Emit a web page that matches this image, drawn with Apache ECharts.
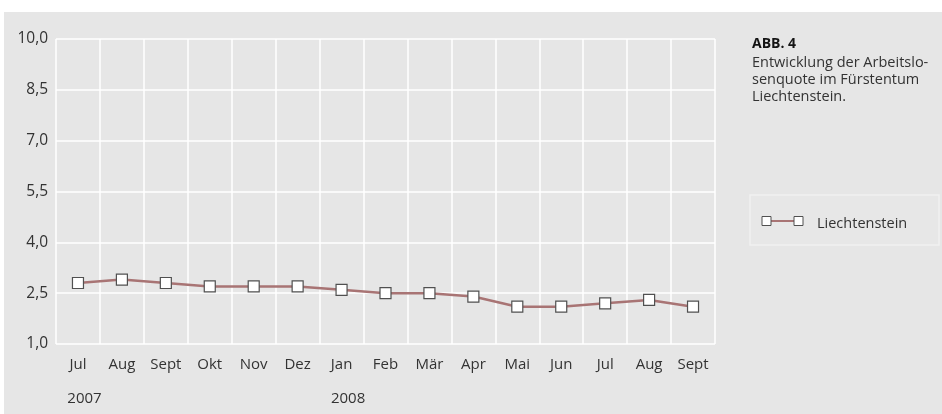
<!DOCTYPE html>
<html>
<head>
<meta charset="utf-8">
<script src="https://cdn.jsdelivr.net/npm/echarts@6/dist/echarts.min.js"></script>
<style>
  html, body { margin: 0; padding: 0; background: #ffffff; }
  #chart { width: 942px; height: 414px; }
</style>
</head>
<body>
<div id="chart"></div>
<script>
// Arbeitslosenquote Liechtenstein, Juli 2007 – September 2008 (in %)
const months = ['Jul', 'Aug', 'Sept', 'Okt', 'Nov', 'Dez', 'Jan', 'Feb', 'Mär', 'Apr', 'Mai', 'Jun', 'Jul', 'Aug', 'Sept'];
const years = ['2007', '', '', '', '', '', '2008', '', '', '', '', '', '', '', ''];
const quote = [2.8, 2.9, 2.8, 2.7, 2.7, 2.7, 2.6, 2.5, 2.5, 2.4, 2.1, 2.1, 2.2, 2.3, 2.1];
const seriesName = 'Liechtenstein';
const yMin = 1.0, yMax = 10.0, yStep = 1.5;

const FONT = '"Open Sans", "Noto Sans", sans-serif';
const TEXT = '#333333';
const LINE_COLOR = '#a87474';
const MARK_BORDER = '#505050';

const chart = echarts.init(document.getElementById('chart'), null, { renderer: 'canvas' });

// legend key: two square markers joined by a line segment
const keyX = 762, keyY = 221, keyW = 41, keySq = 9;
const legendKey = [
  { type: 'line', silent: true, z: 5,
    shape: { x1: keyX + keySq / 2, y1: keyY, x2: keyX + keyW - keySq / 2, y2: keyY },
    style: { stroke: LINE_COLOR, lineWidth: 2 } },
  { type: 'rect', silent: true, z: 6,
    shape: { x: keyX, y: keyY - keySq / 2, width: keySq, height: keySq },
    style: { fill: '#ffffff', stroke: MARK_BORDER, lineWidth: 1 } },
  { type: 'rect', silent: true, z: 6,
    shape: { x: keyX + keyW - keySq, y: keyY - keySq / 2, width: keySq, height: keySq },
    style: { fill: '#ffffff', stroke: MARK_BORDER, lineWidth: 1 } }
];

chart.setOption({
  animation: false,
  backgroundColor: '#ffffff',
  textStyle: { fontFamily: FONT },
  graphic: [
    { type: 'rect', z: -10, silent: true,
      shape: { x: 4, y: 12, width: 938, height: 402 },
      style: { fill: '#e6e6e6' } },
    { type: 'rect', z: -5, silent: true,
      shape: { x: 750, y: 195, width: 189, height: 50 },
      style: { fill: '#e7e7e7', stroke: '#f1f1f1', lineWidth: 1.5 } },
    { type: 'text', left: 752, top: 37,
      style: { text: 'ABB. 4', font: 'bold 14px ' + FONT, fill: '#141414' } },
    { type: 'text', left: 752, top: 54,
      style: { text: 'Entwicklung der Arbeitslo-\nsenquote im Fürstentum\nLiechtenstein.',
               font: '14.5px ' + FONT, lineHeight: 17, fill: TEXT } }
  ].concat(legendKey),
  grid: { left: 56, right: 227, top: 39, bottom: 70, containLabel: false },
  legend: {
    left: 762, top: 211,
    icon: 'none',
    itemWidth: 42, itemHeight: 12, itemGap: 10,
    textStyle: { fontFamily: FONT, fontSize: 14.5, color: TEXT, padding: [0, 0, 0, 3] },
    data: [seriesName]
  },
  xAxis: [
    {
      type: 'category',
      data: months,
      boundaryGap: true,
      axisLine: { show: false },
      axisTick: { show: false },
      splitLine: { show: true, interval: 0, lineStyle: { color: '#ffffff', width: 1.5 } },
      axisLabel: { interval: 0, margin: 13, fontFamily: FONT, fontSize: 15, color: TEXT }
    },
    {
      type: 'category',
      data: years,
      position: 'bottom',
      offset: 34,
      boundaryGap: true,
      axisLine: { show: false },
      axisTick: { show: false },
      splitLine: { show: false },
      axisLabel: { interval: 0, margin: 13, padding: [0, 0, 0, 13],
                   fontFamily: FONT, fontSize: 15, color: TEXT }
    }
  ],
  yAxis: {
    type: 'value',
    min: yMin, max: yMax, interval: yStep,
    axisLine: { show: false },
    axisTick: { show: false },
    splitLine: { show: true, lineStyle: { color: '#ffffff', width: 1.5 } },
    axisLabel: {
      margin: 8, fontFamily: FONT, fontSize: 15.5, color: TEXT,
      formatter: v => v.toFixed(1).replace('.', ',')
    }
  },
  series: [{
    name: seriesName,
    type: 'line',
    xAxisIndex: 0,
    data: quote,
    symbol: 'rect',
    symbolSize: 11,
    lineStyle: { color: LINE_COLOR, width: 2.5 },
    itemStyle: { color: '#ffffff', borderColor: MARK_BORDER, borderWidth: 1.2 }
  }]
});
</script>
</body>
</html>
